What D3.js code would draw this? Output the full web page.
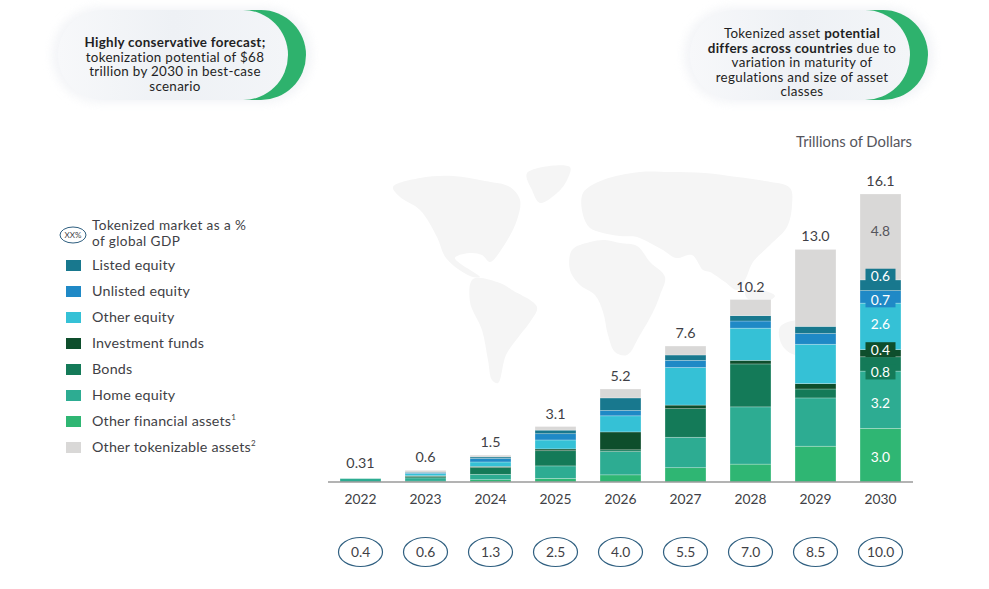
<!DOCTYPE html>
<html>
<head>
<meta charset="utf-8">
<script src="https://cdn.jsdelivr.net/npm/d3@7"></script>
<style>
  html, body { margin: 0; padding: 0; background: #fff; }
  svg { display: block; font-family: Lato, "Open Sans", sans-serif; }
</style>
</head>
<body>
<svg id="chart" width="989" height="589"></svg>
<script>
// ---------- data ----------
const years = ["2022", "2023", "2024", "2025", "2026", "2027", "2028", "2029", "2030"];
const seriesNames = ["Other financial assets", "Home equity", "Bonds", "Investment funds",
                     "Other equity", "Unlisted equity", "Listed equity", "Other tokenizable assets"];
const legendOrder = ["Listed equity", "Unlisted equity", "Other equity", "Investment funds",
                     "Bonds", "Home equity", "Other financial assets", "Other tokenizable assets"];
const legendSup = { "Other financial assets": "1", "Other tokenizable assets": "2" };
const otherFinancial = [0.00, 0.05, 0.13, 0.20, 0.40, 0.80, 1.00, 2.00, 3.00];
const homeEquity     = [0.19, 0.18, 0.30, 0.70, 1.30, 1.70, 3.20, 2.70, 3.20];
const bonds          = [0.00, 0.08, 0.38, 0.85, 0.10, 1.60, 2.40, 0.50, 0.80];
const investFunds    = [0.00, 0.04, 0.06, 0.10, 1.00, 0.20, 0.20, 0.30, 0.40];
const otherEquity    = [0.00, 0.12, 0.25, 0.50, 0.90, 2.10, 1.80, 2.20, 2.60];
const unlistedEquity = [0.00, 0.04, 0.20, 0.35, 0.30, 0.40, 0.40, 0.60, 0.70];
const listedEquity   = [0.00, 0.04, 0.08, 0.20, 0.70, 0.30, 0.30, 0.40, 0.60];
const otherTokenizable=[0.00, 0.10, 0.10, 0.20, 0.50, 0.50, 0.90, 4.30, 4.80];
const totalLabels = ["0.31", "0.6", "1.5", "3.1", "5.2", "7.6", "10.2", "13.0", "16.1"];
const gdpShare = ["0.4", "0.6", "1.3", "2.5", "4.0", "5.5", "7.0", "8.5", "10.0"];
const segLabels2030 = ["3.0", "3.2", "0.8", "0.4", "2.6", "0.7", "0.6", "4.8"];

const colors = {
  "Listed equity": "#18788e",
  "Unlisted equity": "#1f89c6",
  "Other equity": "#35c1d6",
  "Investment funds": "#0e4e2c",
  "Bonds": "#147a58",
  "Home equity": "#2dac92",
  "Other financial assets": "#2fb673",
  "Other tokenizable assets": "#d9d8d7"
};

const seriesValues = [otherFinancial, homeEquity, bonds, investFunds, otherEquity,
                      unlistedEquity, listedEquity, otherTokenizable];
const table = years.map((y, i) => {
  const row = { year: y };
  seriesNames.forEach((s, k) => row[s] = seriesValues[k][i]);
  return row;
});

// ---------- setup ----------
const svg = d3.select("#chart");
const textCol = "#3f3f46";

// ---------- faint decorative world map (background) ----------
const continents = [
  [[393,187],[420,178],[453,176],[485,181],[510,187],[520,200],[517,220],[503,247],[490,262],[482,255],[470,253],[455,258],[480,277],[470,276],[446,258],[437,237],[420,210],[400,197]],
  [[527,173],[570,167],[566,182],[557,193],[540,203],[532,190]],
  [[473,279],[500,283],[512,290],[537,307],[530,322],[520,335],[506,355],[498,383],[492,380],[488,360],[482,330],[470,302]],
  [[583,193],[603,180],[640,172],[670,172],[705,173],[737,177],[765,181],[790,188],[792,205],[787,227],[770,245],[753,262],[745,280],[737,290],[725,282],[710,272],[703,270],[692,255],[676,258],[663,250],[650,243],[637,237],[620,236],[603,233],[590,228],[583,215]],
  [[572,250],[590,242],[605,240],[620,243],[637,246],[650,262],[665,277],[660,295],[653,312],[640,335],[627,355],[615,352],[608,335],[603,312],[595,295],[580,285],[570,270]],
  [[780,327],[798,320],[815,323],[822,340],[815,352],[795,355],[782,345]],
  [[745,292],[760,290],[775,296],[765,302],[748,299]]
];
svg.append("g").selectAll("path").data(continents).join("path")
  .attr("d", d => d3.line().curve(d3.curveCatmullRomClosed)(d))
  .attr("fill", "#f5f5f5");

// ---------- callouts ----------
const defs = svg.append("defs");
const grad = defs.append("linearGradient").attr("id", "pillGrad")
  .attr("x1", "0").attr("x2", "1").attr("y1", "0").attr("y2", "0");
grad.append("stop").attr("offset", "0").attr("stop-color", "#f7f8fa");
grad.append("stop").attr("offset", "0.5").attr("stop-color", "#eef1f5");
grad.append("stop").attr("offset", "1").attr("stop-color", "#f3f5f8");
const blur = defs.append("filter").attr("id", "soft").attr("x", "-20%").attr("y", "-40%")
  .attr("width", "140%").attr("height", "180%");
blur.append("feGaussianBlur").attr("stdDeviation", 5);

function callout(x0, x1, y0, y1, lines) {
  const g = svg.append("g");
  const h = y1 - y0, r = h / 2;
  g.append("rect").attr("x", x0 - 6).attr("y", y0 - 3).attr("width", x1 - x0 + 30)
    .attr("height", h + 6).attr("rx", r + 3).attr("fill", "#eef0f4").attr("opacity", 0.7)
    .attr("filter", "url(#soft)");
  g.append("rect").attr("x", x0 + 18).attr("y", y0).attr("width", x1 - x0)
    .attr("height", h).attr("rx", r).attr("fill", "#2eb26d");
  g.append("rect").attr("x", x0).attr("y", y0).attr("width", x1 - x0)
    .attr("height", h).attr("rx", r).attr("fill", "url(#pillGrad)");
  const cx = (x0 + x1) / 2 + 2;
  const t = g.append("text").attr("text-anchor", "middle").attr("fill", "#1f1f24")
    .attr("font-size", 13.4).attr("letter-spacing", 0.3);
  lines.forEach((parts, i) => {
    const line = t.append("tspan").attr("x", cx).attr("y", lines.startY + i * 14.6);
    parts.forEach(p => line.append("tspan").attr("font-weight", p.b ? 700 : 400).text(p.t));
  });
}
const left = [
  [{ t: "Highly conservative forecast;", b: true }],
  [{ t: "tokenization potential of $68" }],
  [{ t: "trillion by 2030 in best-case" }],
  [{ t: "scenario" }]
];
left.startY = 47;
callout(58, 288, 10, 100, left);
const right = [
  [{ t: "Tokenized asset " }, { t: "potential", b: true }],
  [{ t: "differs across countries", b: true }, { t: " due to" }],
  [{ t: "variation in maturity of" }],
  [{ t: "regulations and size of asset" }],
  [{ t: "classes" }]
];
right.startY = 38;
callout(690, 910, 10, 100, right);

// ---------- scales ----------
const x = d3.scaleBand().domain(years).range([328, 913]).paddingInner(0.37).paddingOuter(0.185);
const y = d3.scaleLinear().domain([0, 16.1]).range([482, 194]);

// unit label
svg.append("text").attr("x", 912).attr("y", 147).attr("text-anchor", "end")
  .attr("font-size", 14.8).attr("fill", "#55555c").text("Trillions of Dollars");

// ---------- stacked bars ----------
const stack = d3.stack().keys(seriesNames)(table);
const layers = svg.append("g").selectAll("g").data(stack).join("g")
  .attr("fill", d => colors[d.key]);
layers.selectAll("rect").data(d => d).join("rect")
  .attr("x", d => x(d.data.year))
  .attr("width", x.bandwidth())
  .attr("y", d => y(d[1]))
  .attr("height", d => Math.max(0, y(d[0]) - y(d[1])))
  .attr("stroke", "rgba(255,255,255,0.35)")
  .attr("stroke-width", d => (y(d[0]) - y(d[1]) > 0.5 ? 0.7 : 0));

// axis baseline
const axis = svg.append("g").attr("transform", "translate(0,482)")
  .call(d3.axisBottom(x).tickSize(0).tickPadding(12));
axis.select(".domain").attr("stroke", "#9a9a9a").attr("stroke-width", 1.6)
  .attr("d", "M" + x.range()[0] + ",0H" + x.range()[1]);
axis.selectAll(".tick text").attr("font-family", "Lato, sans-serif")
  .attr("font-size", 13.8).attr("fill", textCol);

// totals
const totals = table.map(r => d3.sum(seriesNames, s => r[s]));
svg.append("g").selectAll("text").data(years).join("text")
  .attr("x", d => x(d) + x.bandwidth() / 2)
  .attr("y", (d, i) => y(i === 0 ? 0.31 : totals[i]) - 8)
  .attr("text-anchor", "middle").attr("font-size", 14.3).attr("fill", textCol)
  .text((d, i) => totalLabels[i]);

// 2030 segment labels
const last = years.length - 1;
const nudge = [2, 3, 8, -3.5, -2, 3, -9, -6];
const boxed = [false, false, true, true, false, true, true, false];
const lab = svg.append("g");
stack.forEach((layer, k) => {
  const d = layer[last];
  const cy = (y(d[0]) + y(d[1])) / 2 + nudge[k];
  const cx = x(years[last]) + x.bandwidth() / 2;
  if (boxed[k]) {
    lab.append("rect").attr("x", cx - 15).attr("y", cy - 7.5).attr("width", 30).attr("height", 15)
      .attr("fill", colors[layer.key]);
  }
  lab.append("text").attr("x", cx).attr("y", cy + 5).attr("text-anchor", "middle")
    .attr("font-size", 13.8)
    .attr("fill", layer.key === "Other tokenizable assets" ? "#55555c" : "#ffffff")
    .text(segLabels2030[k]);
});

// GDP ovals
const ov = svg.append("g").selectAll("g").data(years).join("g")
  .attr("transform", d => `translate(${x(d) + x.bandwidth() / 2},552)`);
ov.append("ellipse").attr("rx", 22).attr("ry", 14.5).attr("fill", "none")
  .attr("stroke", "#2f5f80").attr("stroke-width", 1.2);
ov.append("text").attr("y", 5).attr("text-anchor", "middle").attr("font-size", 13.8)
  .attr("fill", textCol).text((d, i) => gdpShare[i]);

// ---------- legend ----------
const lg = svg.append("g");
lg.append("ellipse").attr("cx", 73).attr("cy", 235).attr("rx", 13).attr("ry", 8)
  .attr("fill", "none").attr("stroke", "#2f5f80").attr("stroke-width", 1);
lg.append("text").attr("x", 73).attr("y", 238).attr("text-anchor", "middle")
  .attr("font-size", 8).attr("fill", textCol).text("XX%");
lg.append("text").attr("x", 92).attr("y", 230).attr("font-size", 13.6).attr("letter-spacing", 0.4)
  .attr("fill", textCol).text("Tokenized market as a %");
lg.append("text").attr("x", 92).attr("y", 246).attr("font-size", 13.6).attr("letter-spacing", 0.4)
  .attr("fill", textCol).text("of global GDP");
const legendY = d3.scalePoint().domain(legendOrder).range([265, 447]);
const items = lg.selectAll("g.item").data(legendOrder).join("g").attr("class", "item")
  .attr("transform", d => `translate(0,${legendY(d)})`);
items.append("rect").attr("x", 66).attr("y", -5).attr("width", 15).attr("height", 11)
  .attr("fill", d => colors[d]);
const it = items.append("text").attr("x", 92).attr("y", 5).attr("font-size", 14.3)
  .attr("letter-spacing", 0.2).attr("fill", textCol);
it.append("tspan").text(d => d);
it.append("tspan").attr("font-size", 8).attr("dy", -6).text(d => legendSup[d] || "");
</script>
</body>
</html>
